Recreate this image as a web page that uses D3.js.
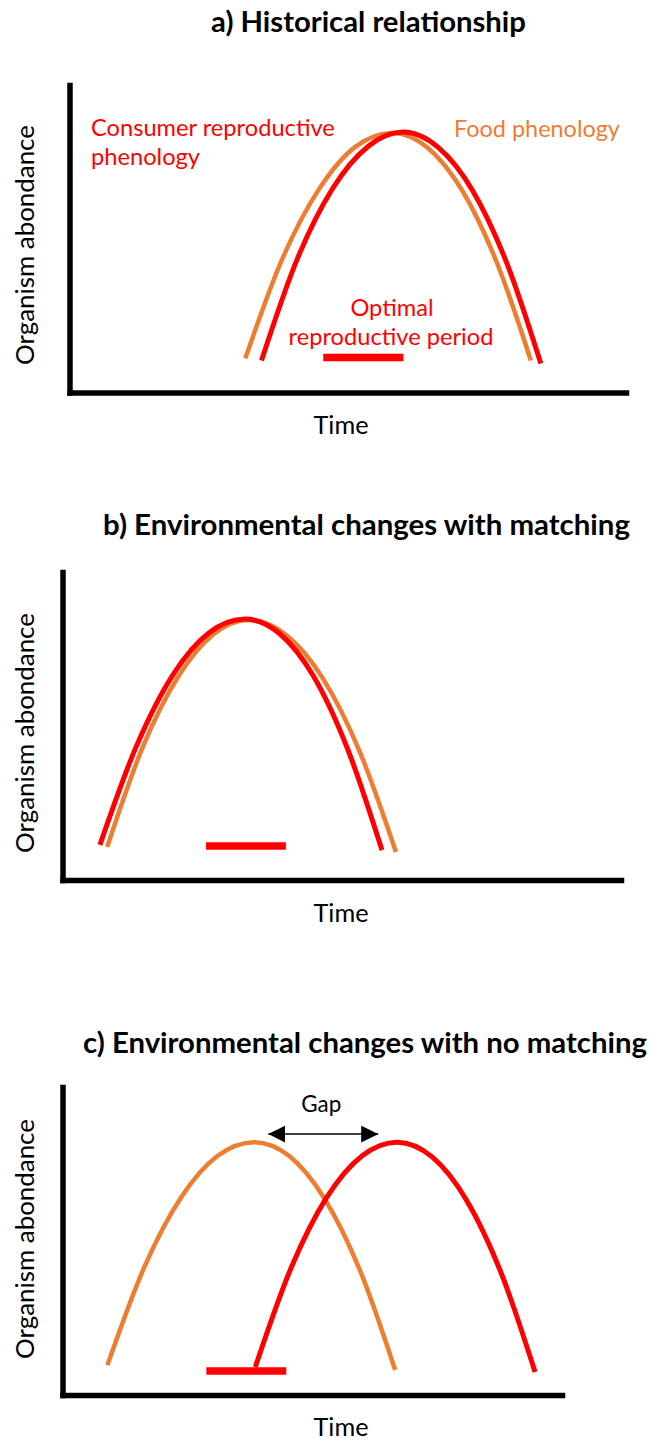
<!DOCTYPE html>
<html>
<head>
<meta charset="utf-8">
<script src="https://cdn.jsdelivr.net/npm/d3@7"></script>
<style>
  html, body { margin: 0; padding: 0; background: #fff; }
  svg { display: block; font-family: Lato, "Open Sans", sans-serif; }
</style>
</head>
<body>
<svg id="chart" width="649" height="1441"></svg>
<script>
// ---------- DATA (time 0-100, abundance 0-100) ----------
const titles = ["a) Historical relationship", "b) Environmental changes with matching", "c) Environmental changes with no matching"];
const xAxisLabel = "Time";
const yAxisLabel = "Organism abondance";

// Panel a : historical relationship
const foodA = [[31.6,11.1],[38.2,43.3],[44.9,66.3],[51.3,79.8],[58.0,84.4],[64.3,79.7],[70.6,65.6],[76.8,42.2],[82.9,10.4]];
const consumerA = [[34.5,10.4],[40.9,43.3],[47.2,66.1],[53.7,80.1],[60.0,84.7],[66.2,79.8],[72.4,65.8],[78.6,42.0],[84.7,9.4]];
// Panel b : environmental changes with matching
const foodB = [[8.0,10.7],[14.4,43.3],[20.7,66.0],[27.1,79.9],[33.4,84.4],[40.0,79.6],[46.5,65.8],[53.1,42.2],[59.7,9.1]];
const consumerB = [[6.7,11.4],[13.2,43.3],[19.8,66.7],[26.2,80.2],[32.7,84.7],[38.8,80.1],[44.9,66.3],[51.1,42.3],[57.2,9.7]];
// Panel c : environmental changes with no matching
const foodC = [[9.0,9.7],[16.4,41.6],[23.8,64.3],[31.0,77.6],[38.4,82.1],[45.4,77.6],[52.4,63.9],[59.6,40.3],[66.6,8.1]];
const consumerC = [[38.6,9.1],[45.8,41.4],[52.8,63.9],[60.0,77.7],[67.0,82.1],[74.0,77.3],[80.8,63.5],[87.8,39.7],[94.6,7.5]];

// Optimal reproductive period: [start time, end time, abundance level]
const optimalA = [45.6, 60.0, 11.4];
const optimalB = [25.7, 40.0, 11.0];
const optimalC = [28.8, 44.8, 7.8];
// Gap between peaks in panel c: [from time, to time, abundance level]
const gapC = [41.2, 63.2, 84.7];

const annotationsA = ["Consumer reproductive", "phenology", "Food phenology", "Optimal", "reproductive period"];
const gapLabel = "Gap";

// ---------- STYLE / LAYOUT ----------
const RED = "#FF0000", ORANGE = "#ED7D31";
const panels = [
  { food: foodA, consumer: consumerA, optimal: optimalA,
    x0: 69.5, x1: 626, y0: 392.5, y1: 85,
    title: { cx: 368.5, by: 32, w: 315 }, time: { cx: 341, by: 434 }, ylab: { bx: 34, cy: 245 } },
  { food: foodB, consumer: consumerB, optimal: optimalB,
    x0: 62.5, x1: 621, y0: 880, y1: 572,
    title: { cx: 366.5, by: 535, w: 527 }, time: { cx: 341, by: 922 }, ylab: { bx: 34, cy: 733 } },
  { food: foodC, consumer: consumerC, optimal: optimalC,
    x0: 62.5, x1: 562, y0: 1395, y1: 1087,
    title: { cx: 365, by: 1053, w: 564 }, time: { cx: 341, by: 1436 }, ylab: { bx: 34, cy: 1239 } }
];

const svg = d3.select("#chart");

function fit(sel, target) {
  sel.style("font-size", "20px");
  const w = sel.node().getComputedTextLength();
  const fs = 20 * target / w;
  sel.style("font-size", fs + "px");
  return fs;
}

panels.forEach((p, i) => {
  const x = d3.scaleLinear().domain([0, 100]).range([p.x0, p.x1]);
  const y = d3.scaleLinear().domain([0, 100]).range([p.y0, p.y1]);
  const g = svg.append("g");

  // Title
  const t = g.append("text").text(titles[i])
    .attr("x", p.title.cx).attr("y", p.title.by)
    .attr("text-anchor", "middle").attr("font-weight", "bold").attr("fill", "#000");
  fit(t, p.title.w);

  // Axes (no ticks, thick domain lines)
  const ax = g.append("g").attr("transform", `translate(0,${p.y0})`)
    .call(d3.axisBottom(x).ticks(0).tickSize(0).tickSizeOuter(0));
  const ay = g.append("g").attr("transform", `translate(${p.x0},0)`)
    .call(d3.axisLeft(y).ticks(0).tickSize(0).tickSizeOuter(0));
  [ax, ay].forEach(a => {
    a.select(".domain").attr("stroke", "#000").attr("stroke-width", 5.5).attr("stroke-linecap", "square");
    a.selectAll(".tick").remove();
  });

  // Axis labels
  const tl = g.append("text").text(xAxisLabel)
    .attr("x", p.time.cx).attr("y", p.time.by).attr("text-anchor", "middle").attr("fill", "#000");
  fit(tl, 55);
  const yl = g.append("text").text(yAxisLabel)
    .attr("transform", `translate(${p.ylab.bx},${p.ylab.cy}) rotate(-90)`)
    .attr("text-anchor", "middle").attr("fill", "#000");
  fit(yl, 240);

  // Curves
  const line = d3.line().x(d => x(d[0])).y(d => y(d[1])).curve(d3.curveMonotoneX);
  g.append("path").datum(p.food).attr("d", line)
    .attr("fill", "none").attr("stroke", ORANGE).attr("stroke-width", 4.5);
  g.append("path").datum(p.consumer).attr("d", line)
    .attr("fill", "none").attr("stroke", RED).attr("stroke-width", 5);

  // Optimal reproductive period bar
  g.append("line")
    .attr("x1", x(p.optimal[0])).attr("x2", x(p.optimal[1]))
    .attr("y1", y(p.optimal[2])).attr("y2", y(p.optimal[2]))
    .attr("stroke", RED).attr("stroke-width", 7.5);

  if (i === 0) {
    const c1 = g.append("text").text(annotationsA[0]).attr("x", 91).attr("y", 136).attr("fill", RED);
    const fs = fit(c1, 244);
    g.append("text").text(annotationsA[1]).attr("x", 91).attr("y", 165).attr("fill", RED).style("font-size", fs + "px");
    const f1 = g.append("text").text(annotationsA[2]).attr("x", 454).attr("y", 137).attr("fill", ORANGE);
    fit(f1, 166);
    const o2 = g.append("text").text(annotationsA[4]).attr("x", 391).attr("y", 345).attr("text-anchor", "middle").attr("fill", RED);
    const fs2 = fit(o2, 205);
    g.append("text").text(annotationsA[3]).attr("x", 392).attr("y", 316).attr("text-anchor", "middle").attr("fill", RED).style("font-size", fs2 + "px");
  }

  if (i === 2) {
    const defs = svg.append("defs");
    ["start", "end"].forEach(k => {
      defs.append("marker").attr("id", "arrow-" + k)
        .attr("viewBox", "0 0 10 10").attr("refX", 10).attr("refY", 5)
        .attr("markerWidth", 17).attr("markerHeight", 17)
        .attr("markerUnits", "userSpaceOnUse")
        .attr("orient", k === "start" ? "auto-start-reverse" : "auto")
        .append("path").attr("d", "M0,0 L10,5 L0,10 Z").attr("fill", "#000");
    });
    g.append("line")
      .attr("x1", x(gapC[0])).attr("x2", x(gapC[1]))
      .attr("y1", y(gapC[2])).attr("y2", y(gapC[2]))
      .attr("stroke", "#000").attr("stroke-width", 1.5)
      .attr("marker-start", "url(#arrow-start)").attr("marker-end", "url(#arrow-end)");
    const gl = g.append("text").text(gapLabel)
      .attr("x", (x(gapC[0]) + x(gapC[1])) / 2 - 2).attr("y", 1112)
      .attr("text-anchor", "middle").attr("fill", "#000");
    fit(gl, 40);
  }
});
</script>
</body>
</html>
